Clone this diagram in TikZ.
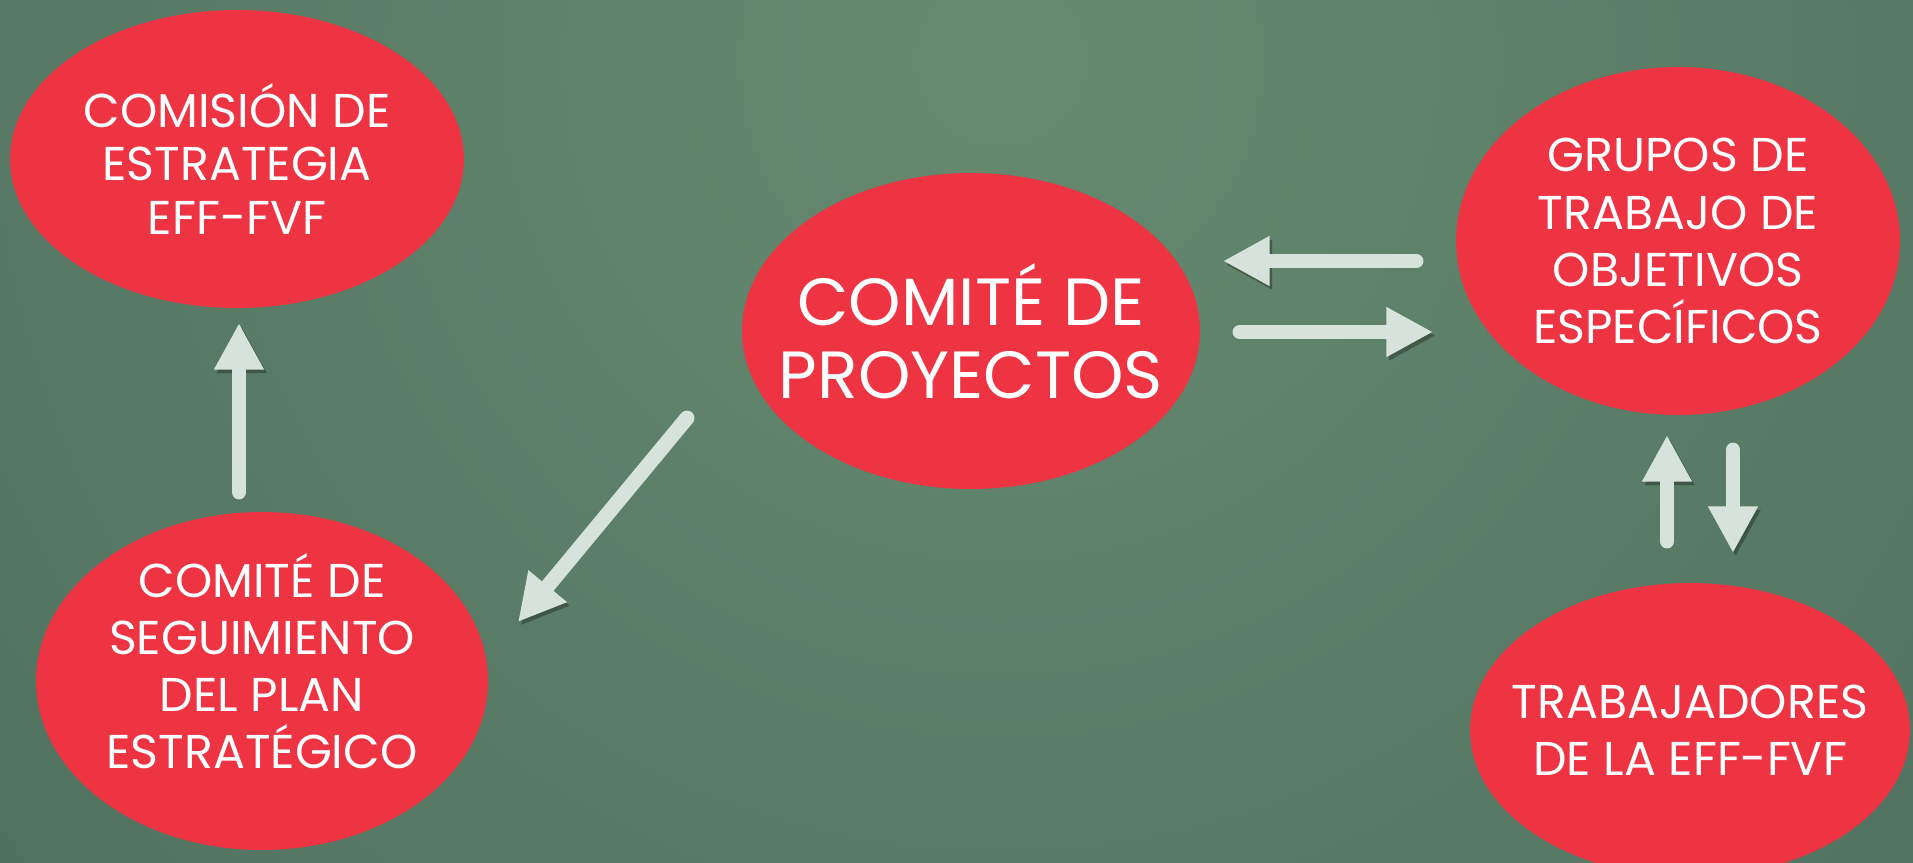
\documentclass[tikz,border=0pt]{standalone}
\usepackage{fontspec}
\setmainfont{Poppins}
\usepackage{xcolor}
\usetikzlibrary{positioning, arrows.meta, shapes.geometric}

\definecolor{bubblered}{HTML}{EE3342}
\definecolor{arrowgrey}{HTML}{D6E2DC}
\definecolor{boardlight}{HTML}{66896F}
\definecolor{boardmid}{HTML}{557763}
\definecolor{boarddark}{HTML}{3A584B}
\pgfdeclareradialshading{board}{\pgfpoint{0bp}{0bp}}{color(0bp)=(boardlight); color(20bp)=(boardmid); color(42bp)=(boarddark); color(50bp)=(boarddark)}

\begin{document}
\begin{tikzpicture}[
      x=0.02cm, y=-0.02cm,
      bubble/.style={
        ellipse,
        fill=bubblered,
        text=white,
        inner sep=-1cm,
        align=center,
        font=\fontsize{27}{32.5}\selectfont
      },
      caption/.style={text=white, align=center, inner sep=0pt,
        font=\fontsize{27}{32.5}\selectfont},
      >={Triangle[width=26.5pt, length=26.5pt]},
      every edge/.style={
        draw=arrowgrey, line width=8.5pt, line cap=round, ->,
        preaction={draw=black, opacity=.3,
          transform canvas={shift={(1.5pt,-2pt)}}}
      }
    ]
    \useasboundingbox (0,0) rectangle (1913,862);
    \begin{scope}
      \clip (0,0) rectangle (1913,862);
      \fill[boarddark] (0,0) rectangle (1913,862);
      \shade[shading=board] (1000,60) circle (1320);
    \end{scope}

    \node[bubble, minimum width=9.08cm, minimum height=5.96cm,
      font=\fontsize{27}{30.5}\selectfont] (comision) at (237,159)
      {COMISIÓN DE\\ESTRATEGIA\\EFF-FVF};
    \node[bubble, minimum width=9.16cm, minimum height=6.32cm,
      font=\fontsize{38}{41.5}\selectfont] (proyectos) at (971,331)
      {COMITÉ DE\\PROYECTOS};
    \node[bubble, minimum width=8.88cm, minimum height=6.96cm] (grupos) at (1678,241)
      {GRUPOS DE\\TRABAJO DE\\OBJETIVOS\\ESPECÍFICOS};
    \node[bubble, minimum width=9.04cm, minimum height=6.76cm] (seguimiento) at (262,681) {};
    \node[caption] (seguimiento-text) at (262,661)
      {COMITÉ DE\\SEGUIMIENTO\\DEL PLAN\\ESTRATÉGICO};
    \node[bubble, minimum width=8.8cm, minimum height=5.88cm] (trabajadores) at (1690,730)
      {TRABAJADORES\\DE LA EFF-FVF};

    % arrow ends
    \coordinate (seg-out) at (239,492);
    \coordinate (com-in) at (239,323);
    \coordinate (proy-out) at (687,418);
    \coordinate (seg-in) at (518,622);
    \coordinate (gru-out) at (1416,261);
    \coordinate (proy-in) at (1223,261);
    \coordinate (proy-out2) at (1240,332);
    \coordinate (gru-in) at (1433,332);
    \coordinate (trab-out) at (1667,541);
    \coordinate (gru-in2) at (1667,435);
    \coordinate (gru-out2) at (1733,450);
    \coordinate (trab-in) at (1733,553);

    \path (seg-out) edge (com-in)
          (proy-out) edge (seg-in)
          (gru-out) edge (proy-in)
          (proy-out2) edge (gru-in)
          (trab-out) edge (gru-in2)
          (gru-out2) edge (trab-in);
  \end{tikzpicture}
\end{document}
